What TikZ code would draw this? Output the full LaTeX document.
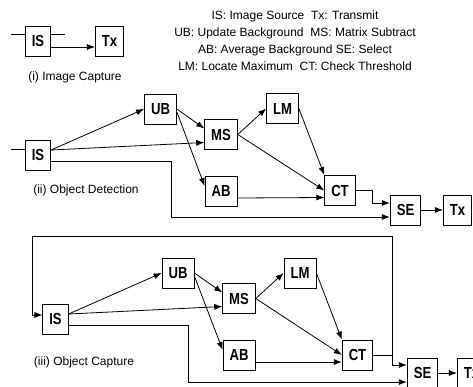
\documentclass[tikz,border=0pt]{standalone}
\usepackage{fontspec}
\setmainfont{Liberation Sans}
\newfontfamily\boxfont[FakeStretch=0.82]{Liberation Sans}
\usetikzlibrary{arrows.meta}

\begin{document}
\begin{tikzpicture}[x=1pt,y=-1pt,line width=0.8pt,
  >={Latex[length=8pt,width=6pt]},
  box/.style={draw,minimum height=30pt,inner xsep=6.5pt,
    font=\boxfont\bfseries\fontsize{16}{16}\selectfont},
  lbl/.style={inner sep=0pt,font=\fontsize{12}{14}\selectfont}]
\useasboundingbox (0,0) rectangle (473,386);

% The key
\node[inner sep=0pt,align=center,font=\fontsize{12}{17}\selectfont] (key) at (295,41)
  {IS: Image Source\ \ Tx: Transmit\\
   UB: Update Background\ \ MS: Matrix Subtract\\
   AB: Average Background SE: Select\\
   LM: Locate Maximum\ \ CT: Check Threshold};

% (i) Image Capture
\node[box] (IS1) at (38,41) {IS};
\node[box] (Tx1) at (109.5,41) {Tx};
\node[lbl] (cap1) at (75,77) {(i) Image Capture};
\coordinate (in1) at (11,34);
\coordinate (out1) at (65,34);
\draw (in1) -- ([yshift=7pt]IS1.west);
\draw ([yshift=7pt]IS1.east) -- (out1);
\draw[->] ([yshift=-6pt]IS1.east) -- ([yshift=-6pt]Tx1.west);

% (ii) Object Detection
\node[box] (IS2) at (38,155) {IS};
\node[box] (UB2) at (160.5,109) {UB};
\node[box] (MS2) at (221,134.5) {MS};
\node[box] (AB2) at (221,191) {AB};
\node[box] (LM2) at (282.5,108.5) {LM};
\node[box] (CT2) at (340,190.5) {CT};
\node[box] (SE2) at (405.5,210) {SE};
\node[box] (Tx2) at (457.5,210) {Tx};
\node[lbl] (cap2) at (86,190) {(ii) Object Detection};
\coordinate (in2) at (11,149);
\draw (in2) -- ([yshift=6pt]IS2.west);
\draw[->] ([yshift=5pt]IS2.east) -- (UB2.west);
\draw[->] ([yshift=5pt]IS2.east) -- ([yshift=-8pt]MS2.west);
\draw[->] (UB2.east) -- ([yshift=6pt]MS2.west);
\draw[->] ([yshift=-3pt]UB2.east) -- ([yshift=5pt]AB2.west);
\draw[->] (MS2.east) -- (LM2.west);
\draw[->] (MS2.east) -- (CT2.west);
\draw[->] (LM2.east) -- (CT2.north west);
\draw[->] ([yshift=-7pt]AB2.east) -- ([yshift=-7pt]CT2.west);
\draw[->] (CT2.east) -- ++(17,0) |- ([yshift=7pt]SE2.west);
\draw[->] ([yshift=-6pt]IS2.east) -- ++(120,0) |- ([yshift=-7pt]SE2.west);
\draw[->] (SE2) -- (Tx2);

% (iii) Object Capture
\node[box] (IS3) at (55.5,319) {IS};
\node[box] (UB3) at (178,273) {UB};
\node[box] (MS3) at (239,298.5) {MS};
\node[box] (AB3) at (239,355) {AB};
\node[box] (LM3) at (300,273) {LM};
\node[box] (CT3) at (357.5,355) {CT};
\node[box] (SE3) at (422.5,373) {SE};
\node[box] (Tx3) at (471.5,373) {Tx};
\node[lbl] (cap3) at (84,362) {(iii) Object Capture};
\draw[->] ([yshift=5pt]IS3.east) -- (UB3.west);
\draw[->] ([yshift=5pt]IS3.east) -- ([yshift=-8pt]MS3.west);
\draw[->] (UB3.east) -- ([yshift=6pt]MS3.west);
\draw[->] ([yshift=-3pt]UB3.east) -- ([yshift=5pt]AB3.west);
\draw[->] (MS3.east) -- (LM3.west);
\draw[->] (MS3.east) -- (CT3.west);
\draw[->] (LM3.east) -- (CT3.north west);
\draw[->] ([yshift=-7pt]AB3.east) -- ([yshift=-7pt]CT3.west);
\draw (CT3.east) -- ++(19,0) coordinate (fb3);
\draw[->] (fb3) |- ([yshift=8pt]SE3.west);
\draw[->] (fb3) |- (32,236) |- ([yshift=4pt]IS3.west);
\draw[->] ([yshift=-6pt]IS3.east) -- ++(120,0) |- ([yshift=-9pt]SE3.west);
\draw[->] (SE3) -- (Tx3);
\end{tikzpicture}
\end{document}
